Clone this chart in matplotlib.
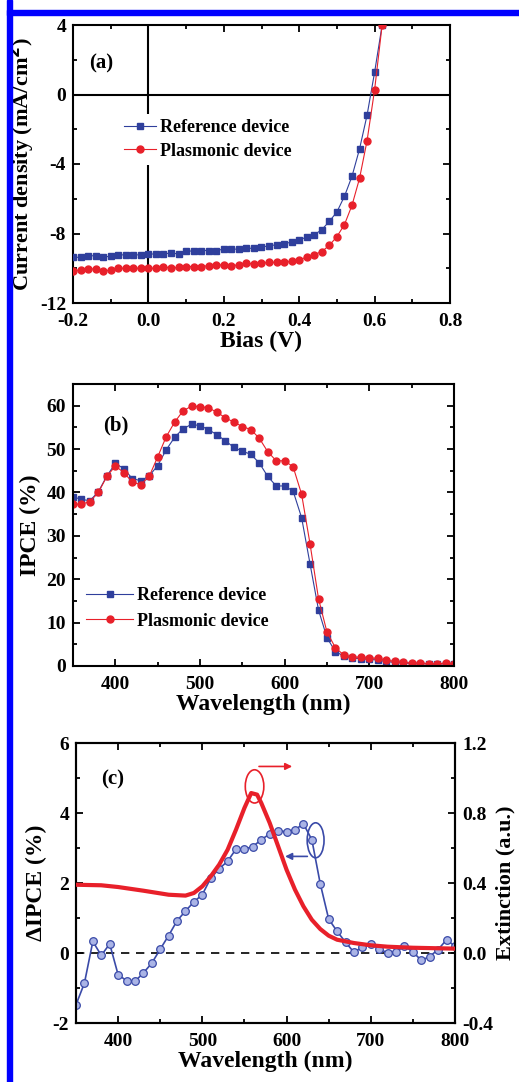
import numpy as np
import matplotlib
matplotlib.use("Agg")
import matplotlib.pyplot as plt
from matplotlib.patches import Ellipse, Rectangle
from matplotlib.ticker import MultipleLocator

# ---- data, panel (a): J-V curves
bias = np.round(np.arange(-0.2, 0.621, 0.02), 2)
j_ref = [-9.37, -9.37, -9.3, -9.27, -9.37, -9.3, -9.23, -9.23, -9.23, -9.23,
         -9.18, -9.18, -9.18, -9.12, -9.18, -8.98, -9.03, -8.98, -8.98, -8.98,
         -8.9, -8.9, -8.9, -8.85, -8.85, -8.77, -8.72, -8.64, -8.58, -8.5,
         -8.35, -8.22, -8.07, -7.78, -7.3, -6.76, -5.86, -4.71, -3.14, -1.19,
         1.28, 4.0]
j_pla = [-10.13, -10.1, -10.04, -10.04, -10.17, -10.1, -10.0, -10.0, -10.0, -10.0,
         -10.0, -10.0, -9.9, -10.0, -9.95, -9.9, -9.9, -9.9, -9.85, -9.81,
         -9.81, -9.85, -9.81, -9.71, -9.75, -9.71, -9.66, -9.66, -9.66, -9.6,
         -9.5, -9.37, -9.21, -9.04, -8.68, -8.18, -7.49, -6.38, -4.83, -2.66,
         0.27, 4.0]

# ---- data, panel (b): IPCE
wl = np.arange(350, 801, 10)
ipce_ref = [39.0, 38.4, 38.1, 40.2, 43.8, 46.7, 45.5, 43.2, 42.7, 43.8,
            46.2, 49.8, 52.7, 54.7, 55.7, 55.4, 54.5, 53.3, 51.9, 50.4,
            49.5, 48.8, 46.8, 43.7, 41.5, 41.5, 40.3, 34.2, 23.5, 12.9,
            6.5, 3.3, 2.3, 1.8, 1.7, 1.5, 1.4, 1.0, 0.85, 0.7,
            0.55, 0.55, 0.5, 0.4, 0.55, 0.45]
ipce_pla = [37.3, 37.3, 37.9, 40.0, 43.7, 46.1, 44.6, 42.4, 41.8, 43.7,
            48.2, 52.8, 56.2, 58.8, 59.9, 59.8, 59.5, 58.5, 57.2, 56.2,
            55.2, 54.5, 52.5, 49.4, 47.3, 47.3, 45.9, 39.6, 28.1, 15.5,
            7.8, 4.2, 2.5, 2.1, 2.0, 1.8, 1.8, 1.3, 1.1, 0.85,
            0.7, 0.7, 0.55, 0.45, 0.7, 0.55]

# ---- data, panel (c): delta IPCE and extinction
d_ipce = [-1.48, -0.86, 0.33, -0.07, 0.26, -0.62, -0.79, -0.81, -0.57, -0.29,
          0.11, 0.5, 0.92, 1.2, 1.46, 1.67, 2.14, 2.41, 2.62, 2.97,
          2.97, 3.04, 3.24, 3.4, 3.5, 3.46, 3.52, 3.69, 3.24, 1.98,
          0.97, 0.62, 0.31, 0.02, 0.17, 0.26, 0.12, 0.0, 0.03, 0.2,
          0.03, -0.21, -0.1, 0.1, 0.38, 0.19]
ext_wl = [350, 380, 400, 430, 460, 480, 490, 500, 510, 520, 530, 540, 550,
          558, 565, 570, 580, 590, 600, 610, 620, 630, 640, 650, 660, 680,
          700, 720, 750, 800]
ext = [0.39, 0.387, 0.377, 0.356, 0.333, 0.328, 0.343, 0.381, 0.438, 0.505,
       0.59, 0.705, 0.829, 0.914, 0.905, 0.857, 0.743, 0.61, 0.476, 0.362,
       0.267, 0.19, 0.137, 0.099, 0.076, 0.057, 0.044, 0.036, 0.03, 0.025]

BLUE = '#2f3f9c'
RED = '#e8202a'
CBLUE = '#3a4aa8'

plt.rcParams['font.family'] = ['Liberation Serif', 'DejaVu Serif']
plt.rcParams['font.weight'] = 'bold'
plt.rcParams['axes.labelweight'] = 'bold'
plt.rcParams['axes.linewidth'] = 1.5
plt.rcParams['axes.unicode_minus'] = False

W, H = 519, 1082
fig = plt.figure(figsize=(W / 100, H / 100), dpi=100)


def px_axes(l, r, t, b):
    return fig.add_axes([l / W, 1 - b / H, (r - l) / W, (b - t) / H])


def style(ax, right=True):
    ax.tick_params(which='both', direction='in', top=True, right=right,
                   labelsize=14, width=1.3)
    ax.tick_params(which='major', length=5)
    ax.tick_params(which='minor', length=3)
    ax.tick_params(axis='x', pad=7)
    ax.tick_params(axis='y', pad=5)


# blue frame on the left and top
fig.patches.append(Rectangle((7 / W, 0), 5 / W, 1, transform=fig.transFigure,
                             color='#0000ff', zorder=0))
fig.patches.append(Rectangle((7 / W, 1 - 15 / H), 1, 5 / H, transform=fig.transFigure,
                             color='#0000ff', zorder=0))

# ---------------- (a)
ax1 = px_axes(73, 450, 25, 303)
ax1.axhline(0, color='black', lw=1.5, zorder=1)
ax1.axvline(0, color='black', lw=1.5, zorder=1)
ax1.plot(bias, j_ref, '-s', color=BLUE, lw=0.8, ms=4.5, label='Reference device', zorder=3)
ax1.plot(bias, j_pla, '-o', color=RED, lw=0.8, ms=5, label='Plasmonic device', zorder=3)
ax1.set_xlim(-0.2, 0.8)
ax1.set_ylim(-12, 4)
ax1.xaxis.set_major_locator(MultipleLocator(0.2))
ax1.xaxis.set_minor_locator(MultipleLocator(0.1))
ax1.yaxis.set_major_locator(MultipleLocator(4))
ax1.yaxis.set_minor_locator(MultipleLocator(2))
ax1.xaxis.set_major_formatter(lambda v, p: f'{v:.1f}')
style(ax1)
ax1.set_xlabel('Bias (V)', fontsize=17, labelpad=1)
ax1.set_ylabel('Current density (mA/cm$^\\mathbf{2}$)', fontsize=16, labelpad=2)
ax1.text(-0.125, 1.8, '(a)', fontsize=15, ha='center', va='center')
leg = ax1.legend(loc='center left', bbox_to_anchor=(0.12, 0.588), fontsize=13,
                 frameon=True, fancybox=False, edgecolor='none', framealpha=1,
                 handlelength=1.8, handletextpad=0.2, labelspacing=0.35,
                 borderpad=0.3, borderaxespad=0)
leg.set_zorder(2)

# ---------------- (b)
ax2 = px_axes(73, 454, 384, 666)
ax2.plot(wl, ipce_ref, '-s', color=BLUE, lw=0.8, ms=4.5, label='Reference device')
ax2.plot(wl, ipce_pla, '-o', color=RED, lw=0.8, ms=5, label='Plasmonic device')
ax2.set_xlim(350, 800)
ax2.set_ylim(0, 65)
ax2.xaxis.set_major_locator(MultipleLocator(100))
ax2.xaxis.set_minor_locator(MultipleLocator(50))
ax2.yaxis.set_major_locator(MultipleLocator(10))
ax2.yaxis.set_minor_locator(MultipleLocator(5))
style(ax2)
ax2.set_xlabel('Wavelength (nm)', fontsize=17, labelpad=1)
ax2.set_ylabel('IPCE (%)', fontsize=17, labelpad=4)
ax2.text(400, 55.5, '(b)', fontsize=15, ha='center', va='center')
ax2.legend(loc='center left', bbox_to_anchor=(0.02, 0.204), fontsize=13,
           frameon=False, handlelength=2.6, handletextpad=0.2,
           labelspacing=0.45, borderpad=0.3, borderaxespad=0)

# ---------------- (c)
ax3 = px_axes(76, 455, 743, 1023)
ax3.axhline(0, color='black', lw=1.2, ls=(0, (5, 4)), zorder=1)
ax3.plot(wl, d_ipce, '-o', color=CBLUE, lw=1.2, ms=5.5,
         mfc='#aab4e6', mec=CBLUE, mew=0.9, zorder=3)
ax3.set_xlim(350, 800)
ax3.set_ylim(-2, 6)
ax3.xaxis.set_major_locator(MultipleLocator(100))
ax3.xaxis.set_minor_locator(MultipleLocator(50))
ax3.yaxis.set_major_locator(MultipleLocator(2))
ax3.yaxis.set_minor_locator(MultipleLocator(1))
style(ax3, right=False)
ax3.set_xlabel('Wavelength (nm)', fontsize=17, labelpad=1)
ax3.set_ylabel('\u0394IPCE (%)', fontsize=17, labelpad=4)
ax3.text(394, 4.95, '(c)', fontsize=15, ha='center', va='center')

ax4 = ax3.twinx()
ax4.plot(ext_wl, ext, '-', color=RED, lw=3, zorder=4)
ax4.set_ylim(-0.4, 1.2)
ax4.yaxis.set_major_locator(MultipleLocator(0.4))
ax4.yaxis.set_minor_locator(MultipleLocator(0.2))
ax4.yaxis.set_major_formatter(lambda v, p: f'{v:.1f}')
ax4.tick_params(which='both', direction='in', labelsize=14, width=1.3, pad=5)
ax4.tick_params(which='major', length=5)
ax4.tick_params(which='minor', length=3)
ax4.set_ylabel('Extinction (a.u.)', fontsize=16, labelpad=2)

# annotation ellipses and arrows
ax3.add_patch(Ellipse((562, 4.76), 22, 0.95, fill=False, ec=RED, lw=1.2, zorder=5))
ax3.annotate('', xy=(610, 5.33), xytext=(564, 5.33),
             arrowprops=dict(arrowstyle='-|>', color=RED, lw=1.2, mutation_scale=10))
ax3.add_patch(Ellipse((634.5, 3.22), 20, 1.0, fill=False, ec=CBLUE, lw=1.2, zorder=5))
ax3.annotate('', xy=(595, 2.76), xytext=(628, 2.76),
             arrowprops=dict(arrowstyle='-|>', color=CBLUE, lw=1.2, mutation_scale=10))

fig.savefig('out.png', dpi=100)
